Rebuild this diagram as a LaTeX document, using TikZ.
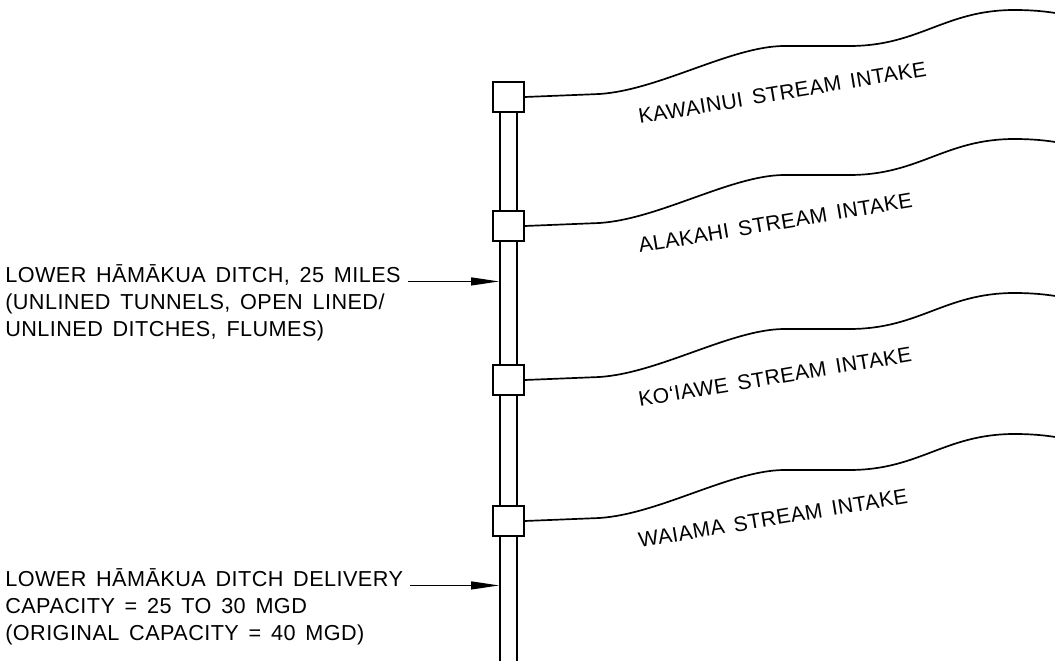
\documentclass[tikz,border=0pt]{standalone}
\usepackage{fontspec}
\usepackage{tikz}
\usetikzlibrary{arrows.meta,positioning,calc}
\newfontfamily\cadfont{Liberation Sans}[LetterSpace=2.0]
\definecolor{ink}{HTML}{000000}
\newcommand{\cadtext}{\cadfont\fontsize{15.4pt}{19.4pt}\selectfont\spaceskip=0.45em\relax}
\newcommand{\cadlabel}{\cadfont\fontsize{15pt}{19pt}\selectfont\spaceskip=0.45em\relax}
\tikzset{
  intake/.style={draw=ink,fill=white,line width=1.3pt,minimum width=0.775cm,minimum height=0.75cm,inner sep=0pt},
  ditch/.style={draw=ink,line width=1.3pt,minimum width=0.425cm,minimum height=15cm,inner sep=0pt},
  stream/.style={draw=ink,line width=1.2pt},
  arr/.style={-{Triangle[length=0.7cm,width=0.2cm]},line width=0.9pt,draw=ink},
  lbl/.style={font=\cadlabel,text=ink,inner sep=0pt,rotate=9.5,anchor=base west},
  note/.style={font=\cadtext,text=ink,inner sep=0pt,align=left,anchor=base west},
}
\begin{document}
\begin{tikzpicture}[x=0.025cm,y=-0.025cm]
  \useasboundingbox (0,0) rectangle (1055,661);
  % main ditch
  \node[ditch,anchor=north] (ditch) at (508.5,97) {};
  % intakes and streams
  \foreach \y/\name/\txt in {97/kawainui/KAWAINUI,226/alakahi/ALAKAHI,380/koiawe/KO‘IAWE,521/waiama/WAIAMA}{
    \node[intake] (\name) at (508.5,\y) {};
    \begin{scope}[shift={(\name.center)}]
      \draw[stream] (\name.east) -- (91,-3) .. controls (151,-7) and (223,-51) .. (276,-51) -- (341,-51)
        .. controls (411,-51) and (436,-87) .. (506,-87) .. controls (526,-87) and (546,-85) .. (561,-81);
      \node[lbl] (\name-lbl) at (131,27) {\txt{} STREAM INTAKE};
    \end{scope}
  }
  % notes (anchored on the last line)
  \node[note] (lhd) at (5,337) {LOWER HĀMĀKUA DITCH, 25 MILES\\(UNLINED TUNNELS, OPEN LINED/\\UNLINED DITCHES, FLUMES)};
  \node[note] (dlv) at (5,641) {LOWER HĀMĀKUA DITCH DELIVERY\\CAPACITY = 25 TO 30 MGD\\(ORIGINAL CAPACITY = 40 MGD)};
  \draw[arr] ([xshift=0.18cm,yshift=39.5pt]lhd.base east) coordinate (lhd-a) -- (lhd-a -| ditch.west);
  \draw[arr] ([xshift=0.18cm,yshift=39.5pt]dlv.base east) coordinate (dlv-a) -- (dlv-a -| ditch.west);
\end{tikzpicture}
\end{document}
